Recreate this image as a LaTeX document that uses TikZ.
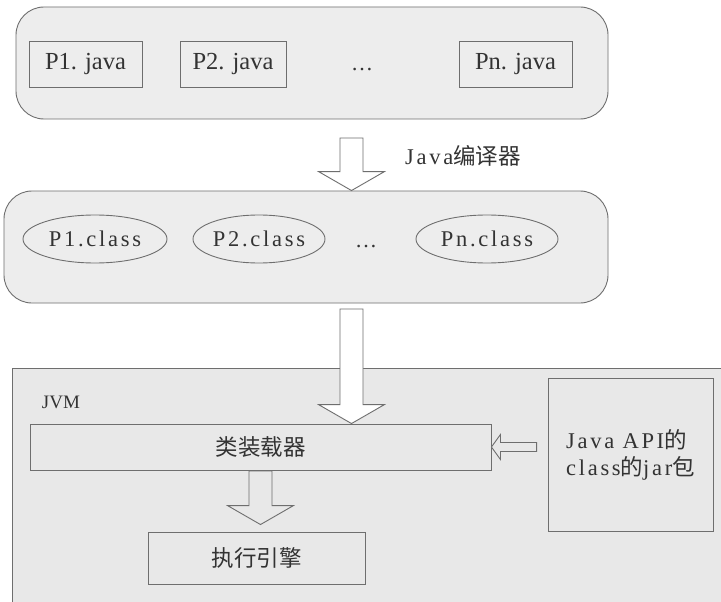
\documentclass[tikz,border=0pt]{standalone}
\usepackage{fontspec}
\setmainfont{Liberation Serif}
\newfontfamily\cjk{Noto Sans CJK SC}
\newfontfamily\hwf[LetterSpace=12]{Liberation Serif}
\usetikzlibrary{shapes.geometric,calc}
\definecolor{ln}{HTML}{6E6E6E}
\definecolor{boxfill}{HTML}{EDEDED}
\definecolor{jvmfill}{HTML}{E8E8E8}
\definecolor{txt}{HTML}{333333}
\tikzset{
  base/.style={line width=0.9pt, draw=ln, text=txt, inner sep=0pt},
  group/.style={base, fill=boxfill, rounded corners=28pt},
  srcbox/.style={base, rectangle, font=\fontsize{24.5}{28}\selectfont},
  clsell/.style={base, ellipse, font=\hwf\fontsize{22.5}{26}\selectfont},
  plainbox/.style={base, rectangle, font=\cjk\fontsize{22.5}{27}\selectfont},
  lbl/.style={text=txt, inner sep=0pt},
  blockarrow/.style={line width=0.9pt, draw=ln, fill=white, line join=miter},
  innerarrow/.style={blockarrow, fill=jvmfill}
}
% down block arrow: #1 style, #2 start, #3 tip, #4 half shaft, #5 half head, #6 head length
\newcommand\blkdown[6]{%
  \draw[#1] ($(#2)+(-#4,0)$) -- ($(#3)+(-#4,-#6)$) -- ($(#3)+(-#5,-#6)$) -- (#3)
    -- ($(#3)+(#5,-#6)$) -- ($(#3)+(#4,-#6)$) -- ($(#2)+(#4,0)$) -- cycle;}
% left block arrow: #1 style, #2 start (right end), #3 tip, #4 half shaft, #5 half head, #6 head length
\newcommand\blkleft[6]{%
  \draw[#1] ($(#2)+(0,-#4)$) -- ($(#3)+(#6,-#4)$) -- ($(#3)+(#6,-#5)$) -- (#3)
    -- ($(#3)+(#6,#5)$) -- ($(#3)+(#6,#4)$) -- ($(#2)+(0,#4)$) -- cycle;}
\begin{document}
\begin{tikzpicture}[x=1pt,y=-1pt]
\useasboundingbox (0,0) rectangle (721,602);
\clip (0,0) rectangle (721,602);
\fill[white] (0,0) rectangle (721,602);

% source files
\node[group, minimum width=592pt, minimum height=112pt] (src) at (312,63) {};
\node[srcbox, minimum width=113pt, minimum height=46pt] (p1) at (85.5,64) {P1. java};
\node[srcbox, minimum width=106pt, minimum height=46pt] (p2) at (233,64) {P2. java};
\node[lbl, font=\fontsize{22}{26}\selectfont, anchor=base] (d1) at (362,71) {…};
\node[srcbox, minimum width=113pt, minimum height=46pt] (pn) at (515.5,64) {Pn. java};

% class files
\node[group, minimum width=604pt, minimum height=112pt] (cls) at (306,247) {};
\node[clsell, minimum width=144pt, minimum height=48pt] (c1) at (95,239) {P1.class};
\node[clsell, minimum width=132pt, minimum height=48pt] (c2) at (259,239) {P2.class};
\node[lbl, font=\fontsize{22}{26}\selectfont, anchor=base] (d2) at (366,247) {…};
\node[clsell, minimum width=142pt, minimum height=48pt] (cn) at (487,239) {Pn.class};

% compiler arrow
\coordinate (a1s) at (351.5,138);
\coordinate (a1t) at (a1s |- cls.north);
\blkdown{blockarrow}{a1s}{a1t}{11.5}{33}{19}
\node[lbl, font=\fontsize{22.5}{26}\selectfont] (comp) at (463,156) {{\hwf Java}{\cjk 编译器}};

% JVM
\node[base, fill=jvmfill, anchor=north west, minimum width=730pt, minimum height=260pt] (jvm) at (12,368) {};
\node[lbl, font=\fontsize{19}{22}\selectfont] (jvml) at (61,402) {JVM};
\node[plainbox, minimum width=461pt, minimum height=46pt] (loader) at (260.5,447) {类装载器};
\node[plainbox, minimum width=217pt, minimum height=52pt] (engine) at (256.5,558) {执行引擎};
\node[plainbox, minimum width=165pt, minimum height=153pt, align=left] (jar) at (630.5,454.5)
  {{\hwf Java API}的\\{\hwf class}的{\hwf jar}包};

% class files into loader
\coordinate (a2s) at (351.5,309);
\coordinate (a2t) at (a2s |- loader.north);
\blkdown{blockarrow}{a2s}{a2t}{11.5}{33}{19}

% loader to engine
\coordinate (a3s) at (260.5,471);
\coordinate (a3t) at ($(a3s |- engine.north)+(0,-7)$);
\blkdown{innerarrow}{a3s}{a3t}{11.5}{33}{19}

% API jar to loader
\coordinate (a4s) at ($(loader.east -| jar.west)+(-11,0)$);
\coordinate (a4t) at (loader.east);
\blkleft{innerarrow}{a4s}{a4t}{4.5}{12.5}{9}
\end{tikzpicture}
\end{document}
